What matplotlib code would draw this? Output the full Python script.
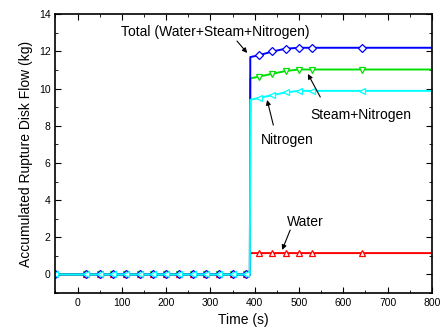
import numpy as np
import matplotlib.pyplot as plt
from matplotlib.ticker import MultipleLocator

plt.rcParams['font.family'] = ['Liberation Sans', 'DejaVu Sans']

# time axis: zero until rupture at ~390 s, then accumulated values
t = [-50, 20, 50, 80, 110, 140, 170, 200, 230, 260, 290, 320, 350, 380, 389,
     390, 410, 440, 470, 500, 530, 643, 800]
total = [0]*15 + [11.7, 11.8, 12.0, 12.15, 12.2, 12.2, 12.2, 12.2]
steam_n2 = [0]*15 + [10.55, 10.65, 10.8, 10.95, 11.03, 11.03, 11.03, 11.03]
nitrogen = [0]*15 + [9.4, 9.5, 9.65, 9.8, 9.88, 9.88, 9.88, 9.88]
water = [0]*15 + [1.15, 1.15, 1.15, 1.15, 1.15, 1.15, 1.15, 1.15]

# marker positions (skip the step corners and end point)
mark = [0, 1, 2, 3, 4, 5, 6, 7, 8, 9, 10, 11, 12, 13, 16, 17, 18, 19, 20, 21]

fig, ax = plt.subplots(figsize=(4.43, 3.33), dpi=100)
fig.subplots_adjust(left=0.125, right=0.975, top=0.957, bottom=0.12)

series = [
    (water, 'red', '^'),
    (steam_n2, '#00e000', 'v'),
    (total, 'blue', 'D'),
    (nitrogen, 'cyan', '<'),
]
for y, c, m in series:
    ax.plot(t, y, color=c, lw=1.4, marker=m, markevery=mark, ms=5 if m != 'D' else 4.2,
            mfc='white', mec=c, mew=0.9)

ax.set_xlim(-50, 800)
ax.set_ylim(-1, 14)
ax.xaxis.set_major_locator(MultipleLocator(100))
ax.xaxis.set_minor_locator(MultipleLocator(50))
ax.yaxis.set_major_locator(MultipleLocator(2))
ax.yaxis.set_minor_locator(MultipleLocator(1))
ax.tick_params(which='both', direction='in', top=True, right=True, labelsize=7.5)
ax.tick_params(which='major', length=4)
ax.tick_params(which='minor', length=2)
for s in ax.spines.values():
    s.set_linewidth(1.2)

ax.set_xlabel('Time (s)', fontsize=10, labelpad=4)
ax.set_ylabel('Accumulated Rupture Disk Flow (kg)', fontsize=10)

arrow = dict(arrowstyle='-|>', color='black', lw=0.8, mutation_scale=7, shrinkA=0, shrinkB=0)
ax.annotate('Total (Water+Steam+Nitrogen)', xy=(383, 11.92), xytext=(312, 13.05),
            fontsize=10, ha='center', va='center')
ax.annotate('', xy=(383, 11.92), xytext=(360, 12.56), arrowprops=arrow)
ax.annotate('Steam+Nitrogen', xy=(520, 10.79), xytext=(640, 8.58),
            fontsize=10, ha='center', va='center')
ax.annotate('', xy=(520, 10.79), xytext=(548, 9.55), arrowprops=arrow)
ax.annotate('Nitrogen', xy=(428, 9.39), xytext=(474, 7.24),
            fontsize=10, ha='center', va='center')
ax.annotate('', xy=(428, 9.39), xytext=(442, 8.04), arrowprops=arrow)
ax.annotate('Water', xy=(462, 1.32), xytext=(514, 2.83),
            fontsize=10, ha='center', va='center')
ax.annotate('', xy=(462, 1.32), xytext=(480, 2.39), arrowprops=arrow)

fig.savefig('out.png', dpi=100)
